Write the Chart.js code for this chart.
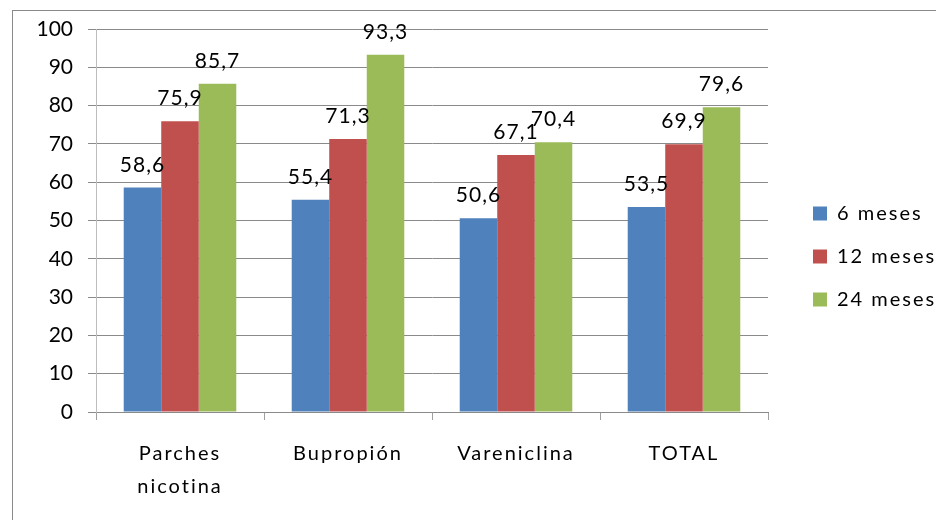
<!DOCTYPE html>
<html><head><meta charset="utf-8">
<script src="https://cdn.jsdelivr.net/npm/chart.js@4/dist/chart.umd.min.js"></script>
<style>html,body{margin:0;padding:0;background:#fff;}#wrap{width:936px;height:520px;}</style>
</head><body><div id="wrap"><canvas id="c" width="936" height="520"></canvas></div>
<script>
const categories = [["Parches","nicotina"], "Bupropión", "Vareniclina", "TOTAL"];
const seriesNames = ["6 meses", "12 meses", "24 meses"];
const meses6 = [58.6, 55.4, 50.6, 53.5];
const meses12 = [75.9, 71.3, 67.1, 69.9];
const meses24 = [85.7, 93.3, 70.4, 79.6];
const yTicks = [0,10,20,30,40,50,60,70,80,90,100];

const colors = ["#4F81BD", "#C0504D", "#9BBB59"];

function withSpacing(obj, method, spacing) {
  const orig = obj[method];
  obj[method] = function(...args) {
    const ctx = this.ctx || this.chart.ctx;
    ctx.save();
    ctx.letterSpacing = spacing;
    const r = orig.apply(this, args);
    ctx.restore();
    return r;
  };
}

const helperPlugin = {
  id: 'helper',
  afterInit(chart) {
    const lg = chart.legend;
    const origFit = lg.fit.bind(lg);
    lg.fit = function() { origFit(); this.width = 168; };
    withSpacing(lg, 'draw', '2px');
  },
  afterLayout(chart) {
    const lg = chart.legend;
    lg.left += 22;
    lg.top -= 18;
    lg.bottom -= 18;
  },
  beforeDraw(chart) {
    const ctx = chart.ctx;
    if (!chart.scales.x._wrapped) {
      withSpacing(chart.scales.x, 'drawLabels', '2px');
      chart.scales.x._wrapped = true;
    }
    ctx.save();
    ctx.fillStyle = '#fff';
    ctx.fillRect(0, 0, chart.width, chart.height);
    ctx.strokeStyle = '#8a8a8a';
    ctx.lineWidth = 1;
    ctx.strokeRect(12.5, 10.5, 1000, 1000);
    ctx.restore();
  },
  afterDatasetsDraw(chart) {
    const ctx = chart.ctx;
    ctx.save();
    ctx.font = '21px Lato';
    ctx.fillStyle = '#000';
    ctx.textAlign = 'center';
    ctx.textBaseline = 'alphabetic';
    ctx.letterSpacing = '1px';
    chart.data.datasets.forEach((ds, i) => {
      chart.getDatasetMeta(i).data.forEach((bar, j) => {
        const v = ds.data[j];
        ctx.fillText(v.toFixed(1).replace('.', ','), bar.x, bar.y - 16);
      });
    });
    ctx.restore();
  }
};

new Chart(document.getElementById('c'), {
  type: 'bar',
  data: {
    labels: categories,
    datasets: [
      { label: seriesNames[0], data: meses6, backgroundColor: colors[0] },
      { label: seriesNames[1], data: meses12, backgroundColor: colors[1] },
      { label: seriesNames[2], data: meses24, backgroundColor: colors[2] }
    ]
  },
  options: {
    responsive: false,
    animation: false,
    devicePixelRatio: 1,
    layout: { padding: { top: 29, left: 0, right: 0, bottom: 0 } },
    datasets: { bar: { categoryPercentage: 0.67, barPercentage: 1.0 } },
    plugins: {
      legend: {
        position: 'right',
        labels: {
          boxWidth: 14, boxHeight: 14, padding: 23, color: '#000',
          font: { family: 'Lato', size: 20 }
        }
      },
      tooltip: { enabled: false }
    },
    scales: {
      x: {
        afterFit(s) { s.height = 108; },
        grid: { display: true, drawOnChartArea: false, drawTicks: true, tickLength: 8, color: '#a0a0a0', offset: true },
        border: { color: '#8a8a8a' },
        ticks: { color: '#000', padding: 17, font: { family: 'Lato', size: 20, lineHeight: 1.65 } }
      },
      y: {
        min: 0, max: 100,
        afterFit(s) { s.width = 96; },
        afterBuildTicks(s) { s.ticks = yTicks.map(v => ({ value: v })); },
        grid: { color: '#8a8a8a', tickLength: 8 },
        border: { color: '#bdbdbd' },
        ticks: { color: '#000', padding: 15, font: { family: 'Lato', size: 21 } }
      }
    }
  },
  plugins: [helperPlugin]
});
</script>
</body></html>
